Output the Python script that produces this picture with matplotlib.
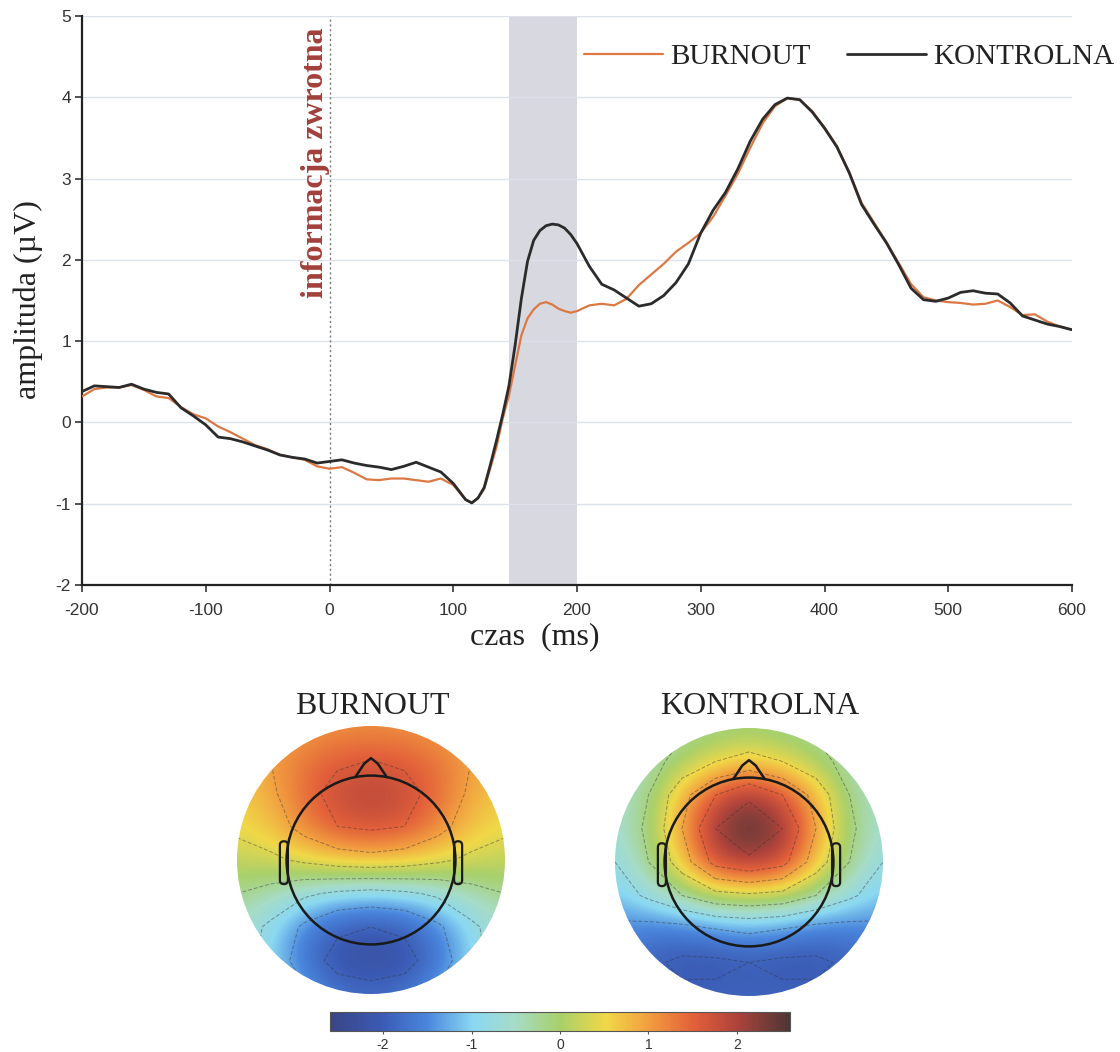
import matplotlib
matplotlib.use('Agg')
import matplotlib.pyplot as plt
import numpy as np
from matplotlib.colors import LinearSegmentedColormap, Normalize
from matplotlib.cm import ScalarMappable
from matplotlib.patches import Circle, FancyBboxPatch, Polygon

plt.rcParams['axes.unicode_minus'] = False
SERIF = 'Liberation Serif'
SANS = 'Liberation Sans'

# ---- ERP waveform data ----
time_ms = [-200, -190, -180, -170, -160, -150, -140, -130, -120, -110,
           -100, -90, -80, -70, -60, -50, -40, -30, -20, -10,
           0, 10, 20, 30, 40, 50, 60, 70, 80, 90, 100, 110,
           115, 120, 125, 130, 135, 140, 145, 150, 155, 160, 165, 170,
           175, 180, 185, 190, 195, 200,
           210, 220, 230, 240, 250, 260, 270, 280, 290, 300,
           310, 320, 330, 340, 350, 360, 370, 380, 390, 400,
           410, 420, 430, 440, 450, 460, 470, 480, 490, 500,
           510, 520, 530, 540, 550, 560, 570, 580, 590, 600]

burnout_uv = [0.32, 0.41, 0.43, 0.43, 0.46, 0.40, 0.32, 0.30, 0.19, 0.10,
              0.05, -0.05, -0.12, -0.20, -0.28, -0.33, -0.40, -0.43, -0.46, -0.54,
              -0.57, -0.55, -0.62, -0.70, -0.71, -0.69, -0.69, -0.71, -0.73, -0.69, -0.77, -0.95,
              -0.99, -0.93, -0.82, -0.56, -0.30, 0.05, 0.33, 0.70, 1.07, 1.28, 1.39, 1.46,
              1.48, 1.45, 1.40, 1.37, 1.35, 1.37,
              1.44, 1.46, 1.44, 1.52, 1.69, 1.82, 1.95, 2.10, 2.21, 2.33,
              2.53, 2.79, 3.06, 3.38, 3.68, 3.89, 3.99, 3.97, 3.83, 3.63,
              3.40, 3.08, 2.70, 2.46, 2.22, 1.96, 1.70, 1.54, 1.50, 1.48,
              1.47, 1.45, 1.46, 1.50, 1.42, 1.32, 1.33, 1.24, 1.18, 1.14]

kontrolna_uv = [0.38, 0.45, 0.44, 0.43, 0.47, 0.41, 0.37, 0.35, 0.18, 0.08,
                -0.03, -0.18, -0.20, -0.24, -0.29, -0.34, -0.40, -0.43, -0.45, -0.50,
                -0.48, -0.46, -0.50, -0.53, -0.55, -0.58, -0.54, -0.49, -0.55, -0.61, -0.75, -0.95,
                -0.99, -0.93, -0.80, -0.52, -0.22, 0.10, 0.45, 0.95, 1.52, 1.98, 2.24, 2.36,
                2.42, 2.44, 2.43, 2.39, 2.31, 2.20,
                1.92, 1.70, 1.63, 1.53, 1.43, 1.46, 1.56, 1.72, 1.95, 2.33,
                2.61, 2.83, 3.12, 3.46, 3.73, 3.91, 3.99, 3.97, 3.82, 3.62,
                3.39, 3.07, 2.68, 2.44, 2.21, 1.94, 1.65, 1.51, 1.49, 1.53,
                1.60, 1.62, 1.59, 1.58, 1.47, 1.31, 1.26, 1.21, 1.18, 1.14]

window_start, window_end = 145, 200
x_ticks = [-200, -100, 0, 100, 200, 300, 400, 500, 600]
y_ticks = [-2, -1, 0, 1, 2, 3, 4, 5]

# ---- topographic maps: coarse grid of amplitudes (rows top->bottom) ----
topo_pos = [-1.0, -0.75, -0.5, -0.25, 0.0, 0.25, 0.5, 0.75, 1.0]
burnout_topo = [
    [0.8, 0.9, 1.0, 1.1, 1.1, 1.1, 1.0, 0.9, 0.8],
    [0.8, 1.0, 1.3, 1.5, 1.6, 1.5, 1.3, 1.0, 0.8],
    [0.6, 0.9, 1.4, 1.8, 1.9, 1.8, 1.4, 0.9, 0.6],
    [0.5, 0.7, 1.2, 1.6, 1.7, 1.6, 1.2, 0.7, 0.5],
    [0.2, 0.3, 0.5, 0.7, 0.8, 0.7, 0.5, 0.3, 0.2],
    [-0.2, -0.4, -0.7, -0.9, -1.0, -0.9, -0.7, -0.4, -0.2],
    [-0.5, -0.9, -1.5, -1.9, -2.0, -1.9, -1.5, -0.9, -0.5],
    [-0.5, -1.0, -1.7, -2.2, -2.3, -2.2, -1.7, -1.0, -0.5],
    [-0.4, -0.8, -1.3, -1.7, -1.8, -1.7, -1.3, -0.8, -0.4],
]
kontrolna_topo = [
    [-0.6, -0.5, -0.3, -0.2, -0.1, -0.2, -0.3, -0.5, -0.6],
    [-0.6, -0.4, 0.0, 0.4, 0.6, 0.4, 0.0, -0.4, -0.6],
    [-0.6, -0.2, 0.8, 1.6, 2.1, 1.6, 0.8, -0.2, -0.6],
    [-0.6, -0.1, 1.0, 2.2, 2.6, 2.2, 1.0, -0.1, -0.6],
    [-0.8, -0.2, 0.7, 1.8, 2.1, 1.8, 0.7, -0.2, -0.8],
    [-1.1, -0.7, -0.2, 0.2, 0.3, 0.2, -0.2, -0.7, -1.1],
    [-1.5, -1.6, -1.6, -1.4, -1.3, -1.4, -1.6, -1.6, -1.5],
    [-1.6, -1.9, -2.1, -2.1, -2.0, -2.1, -2.1, -1.9, -1.6],
    [-1.5, -1.8, -1.9, -1.9, -1.9, -1.9, -1.9, -1.8, -1.5],
]
cbar_ticks = [-2, -1, 0, 1, 2]
cbar_min, cbar_max = -2.6, 2.6
contour_levels = [-2.0, -1.4, -0.8, -0.2, 0.4, 1.0, 1.6, 2.2]

topo_cmap = LinearSegmentedColormap.from_list('topo', [
    (0.00, '#3a4585'), (0.11, '#3b5ab4'), (0.21, '#4a86dd'),
    (0.31, '#8ad8f2'), (0.40, '#a6dcc8'), (0.50, '#a9d06a'),
    (0.60, '#f0d848'), (0.69, '#f2a040'), (0.79, '#e3603a'),
    (0.88, '#b2443c'), (1.00, '#4e3636')])

W, H = 1120, 1052
fig = plt.figure(figsize=(W / 100, H / 100), dpi=100)
fig.patch.set_facecolor('white')

# ---- ERP axes ----
ax = fig.add_axes([82 / W, 1 - 585 / H, 990 / W, 569 / H])
ax.axvspan(window_start, window_end, color='#d8d8e0', lw=0, zorder=0)
ax.yaxis.grid(True, color='#dde1ea', lw=1.0)
ax.set_axisbelow(True)
ax.axvline(0, color='#777777', ls=(0, (1.5, 2)), lw=1.0, zorder=1)

ax.plot(time_ms, burnout_uv, color='#dc7844', lw=1.6, label='BURNOUT', zorder=3,
        solid_joinstyle='round', solid_capstyle='round')
ax.plot(time_ms, kontrolna_uv, color='#2b2b2b', lw=2.0, label='KONTROLNA', zorder=4,
        solid_joinstyle='round', solid_capstyle='round')

ax.set_xlim(-200, 600)
ax.set_ylim(-2, 5)
ax.set_xticks(x_ticks)
ax.set_yticks(y_ticks)
ax.set_xticklabels([str(t) for t in x_ticks], fontfamily=SANS, fontsize=12.5, color='#333333')
ax.set_yticklabels([str(t) for t in y_ticks], fontfamily=SANS, fontsize=12.5, color='#333333')
ax.tick_params(direction='out', length=5, width=1.2, color='#333333', pad=3)
ax.tick_params(axis='x', pad=8)
for s in ['top', 'right']:
    ax.spines[s].set_visible(False)
for s in ['left', 'bottom']:
    ax.spines[s].set_color('#222222')
    ax.spines[s].set_linewidth(1.6)

ax.text(-11, 3.2, 'informacja zwrotna', rotation=90, ha='center', va='center',
        fontfamily=SERIF, fontweight='bold', fontsize=23, color='#a23f3a')

fig.text(28 / W, 1 - 300 / H, 'amplituda (\u00b5V)', rotation=90, ha='center', va='center',
         fontfamily=SERIF, fontsize=23, color='#222222')
fig.text(535 / W, 1 - 637 / H, 'czas  (ms)', ha='center', va='center',
         fontfamily=SERIF, fontsize=23, color='#222222')

fig.legend(loc='center right', bbox_to_anchor=(1114 / W, 1 - 57 / H), ncol=2, frameon=False,
           prop={'family': SERIF, 'size': 21}, handlelength=2.7, handletextpad=0.25,
           columnspacing=1.25, borderaxespad=0, borderpad=0, labelcolor='#222222')


# ---- topographic maps ----
def draw_topo(cx, cy, r, grid, title, tx):
    half = 1.1 * r
    tax = fig.add_axes([(cx - half) / W, 1 - (cy + half) / H, 2 * half / W, 2 * half / H])
    tax.set_xlim(-1.1, 1.1)
    tax.set_ylim(-1.1, 1.1)
    tax.set_aspect('equal')
    tax.axis('off')
    vals = np.array(grid)
    clip = Circle((0, 0), 1.0, transform=tax.transData)
    im = tax.imshow(vals, extent=[-1.125, 1.125, -1.125, 1.125], origin='upper',
                    cmap=topo_cmap, vmin=cbar_min, vmax=cbar_max, interpolation='bicubic')
    im.set_clip_path(clip)
    cs = tax.contour(topo_pos, topo_pos, vals[::-1], levels=contour_levels,
                     colors='#333333', linewidths=0.7, linestyles=[(0, (4, 2))], alpha=0.45)
    cs.set_clip_path(clip)
    # head outline
    tax.add_patch(Circle((0, 0), 0.63, fill=False, lw=1.8, ec='#1a1a1a'))
    tax.add_patch(Polygon([[-0.12, 0.615], [-0.05, 0.72], [0.0, 0.76], [0.05, 0.72], [0.12, 0.615]],
                          closed=False, fill=False, lw=1.8, ec='#1a1a1a', joinstyle='round'))
    for ex in (-0.68, 0.62):
        tax.add_patch(FancyBboxPatch((ex, -0.18), 0.06, 0.32,
                                     boxstyle='round,pad=0,rounding_size=0.03',
                                     fill=False, lw=1.6, ec='#1a1a1a'))
    fig.text(tx / W, 1 - 707 / H, title, ha='center', va='center',
             fontfamily=SERIF, fontsize=23, color='#222222')


draw_topo(371, 860, 134, burnout_topo, 'BURNOUT', 372)
draw_topo(749, 862, 134, kontrolna_topo, 'KONTROLNA', 760)

# ---- colour bar ----
cax = fig.add_axes([330 / W, 1 - 1031 / H, 460 / W, 19 / H])
cb = fig.colorbar(ScalarMappable(norm=Normalize(cbar_min, cbar_max), cmap=topo_cmap),
                  cax=cax, orientation='horizontal', ticks=cbar_ticks)
cb.outline.set_linewidth(0.8)
cb.outline.set_edgecolor('#555555')
cax.tick_params(length=2, width=0.8, color='#555555', pad=3)
cax.set_xticklabels([str(t) for t in cbar_ticks], fontfamily=SANS, fontsize=10, color='#333333')

fig.savefig('out.png', dpi=100, facecolor='white')
